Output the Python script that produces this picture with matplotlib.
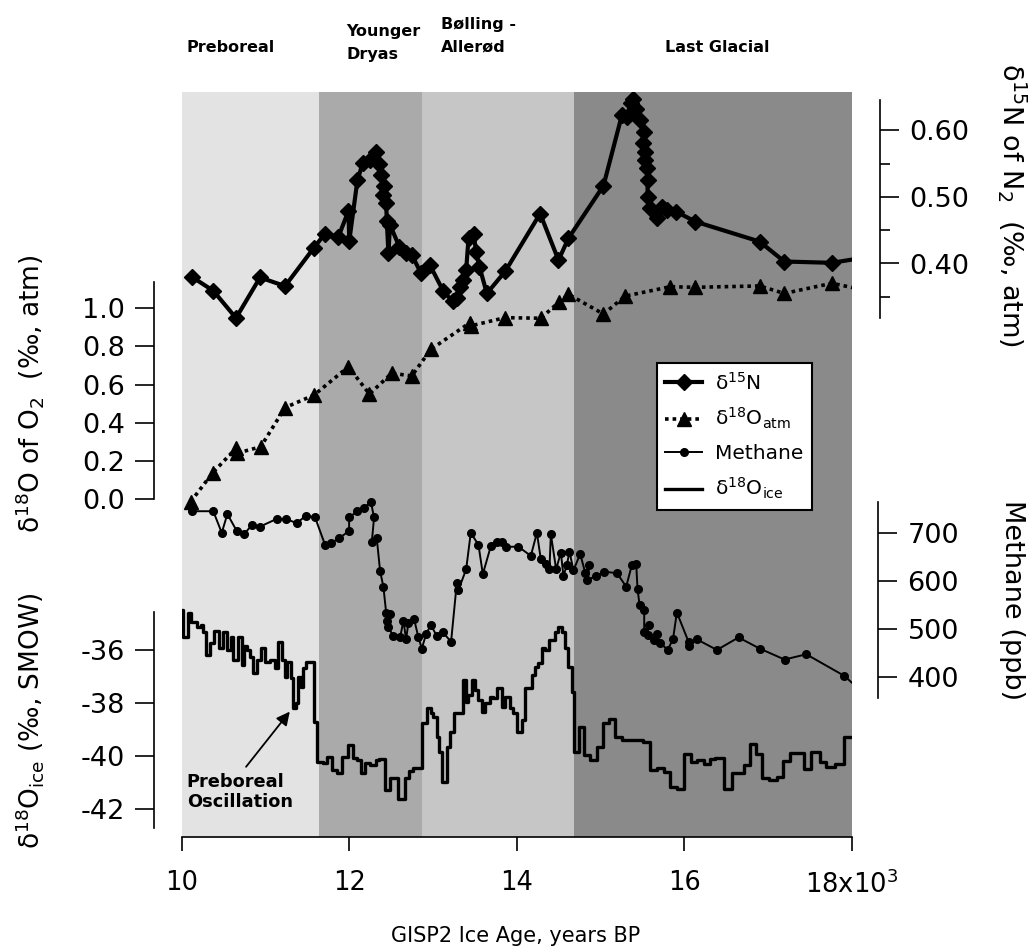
import matplotlib
matplotlib.use("Agg")
import matplotlib.pyplot as plt

plt.rcParams["font.family"] = ["DejaVu Sans"]
plt.rcParams["mathtext.default"] = "regular"

# ── Climate intervals ─────────────────────────────────────
band_edges = [10000, 11640, 12870, 14680, 18000]
band_colors = ["#e3e3e3", "#aaaaaa", "#c6c6c6", "#8a8a8a"]
band_names = ["Preboreal", "Younger\nDryas", "Bølling -\nAllerød", "Last Glacial"]

# ── d15N of N2 (permil) ───────────────────────────────────
n15_age = [10119, 10377, 10648, 10935, 11233, 11580, 11711, 11870, 11990, 12000,
           12097, 12161, 12248, 12320, 12360, 12376, 12419, 12407, 12440, 12448,
           12467, 12487, 12598, 12678, 12746, 12854, 12965, 13124, 13236, 13291,
           13324, 13356, 13395, 13423, 13483, 13514, 13554, 13642, 13860, 14278,
           14497, 14616, 15034, 15253, 15313, 15361, 15392, 15424, 15472, 15512,
           15504, 15532, 15532, 15552, 15560, 15560, 15592, 15671, 15731, 15791,
           15902, 16129, 16897, 17192, 17761, 18200]
n15 = [0.380, 0.359, 0.318, 0.379, 0.366, 0.424, 0.445, 0.440, 0.479, 0.434,
       0.525, 0.551, 0.556, 0.568, 0.550, 0.533, 0.517, 0.503, 0.491, 0.464,
       0.416, 0.458, 0.425, 0.416, 0.413, 0.386, 0.397, 0.358, 0.343, 0.348,
       0.365, 0.375, 0.390, 0.438, 0.445, 0.418, 0.395, 0.355, 0.388, 0.475,
       0.405, 0.438, 0.517, 0.623, 0.621, 0.641, 0.648, 0.633, 0.616, 0.598,
       0.581, 0.568, 0.556, 0.543, 0.526, 0.500, 0.483, 0.468, 0.485, 0.480,
       0.478, 0.463, 0.433, 0.403, 0.401, 0.410]

# ── d18O of O2 (permil, atm) ─────────────────────────────
atm_age = [10107, 10370, 10648, 10657, 10943, 11233, 11580, 11990, 12240, 12507,
           12746, 12973, 13442, 13450, 13860, 14286, 14509, 14616, 15034, 15293,
           15831, 16129, 16897, 17192, 17761, 18150]
atm = [-0.013, 0.139, 0.267, 0.241, 0.275, 0.480, 0.546, 0.694, 0.551, 0.660,
       0.646, 0.785, 0.925, 0.908, 0.951, 0.948, 1.035, 1.073, 0.970, 1.064,
       1.113, 1.110, 1.117, 1.078, 1.131, 1.095]

# ── Methane (ppb) ─────────────────────────────────────────
ch4_age = [10119, 10377, 10478, 10545, 10657, 10744, 10836, 10935, 11134, 11245,
           11373, 11484, 11592, 11711, 11779, 11882, 11998, 11998, 12097, 12180,
           12257, 12296, 12269, 12328, 12368, 12407, 12440, 12487, 12448, 12467,
           12520, 12607, 12646, 12678, 12706, 12774, 12825, 12866, 12917, 12973,
           13045, 13116, 13215, 13283, 13303, 13395, 13450, 13542, 13594, 13689,
           13761, 13821, 13872, 14019, 14167, 14239, 14286, 14350, 14389, 14406,
           14469, 14525, 14556, 14597, 14628, 14676, 14756, 14816, 14867, 14843,
           14947, 15043, 15194, 15305, 15373, 15424, 15440, 15464, 15520, 15520,
           15572, 15560, 15640, 15671, 15711, 15799, 15863, 15910, 16049, 16057,
           16149, 16388, 16646, 16897, 17195, 17454, 17908, 18150]
ch4 = [746, 746, 701, 740, 705, 698, 717, 714, 730, 730,
       721, 737, 733, 676, 679, 690, 705, 733, 746, 753,
       766, 733, 682, 690, 621, 589, 535, 532, 518, 505,
       487, 483, 518, 479, 514, 521, 483, 460, 490, 509,
       486, 494, 474, 596, 582, 625, 701, 676, 615, 673,
       682, 682, 672, 672, 653, 701, 646, 637, 625, 698,
       625, 660, 611, 634, 662, 623, 657, 618, 634, 603,
       611, 620, 617, 589, 634, 637, 585, 551, 540, 495,
       509, 488, 478, 490, 472, 457, 479, 535, 474, 465,
       479, 457, 483, 460, 437, 448, 403, 365]

# ── d18O of ice (permil, SMOW), step record ───────────────
ice_age = [10000, 10020, 10079, 10107, 10179, 10227, 10258, 10290, 10338, 10386,
           10449, 10489, 10545, 10585, 10617, 10676, 10716, 10744, 10784, 10815,
           10847, 10903, 10943, 10995, 11054, 11114, 11154, 11194, 11233, 11261,
           11301, 11333, 11365, 11393, 11420, 11452, 11484, 11580, 11612, 11683,
           11731, 11791, 11850, 11910, 11990, 12049, 12089, 12137, 12189, 12248,
           12320, 12360, 12427, 12487, 12579, 12666, 12718, 12766, 12865, 12925,
           12973, 13005, 13044, 13076, 13104, 13164, 13204, 13251, 13363, 13395,
           13422, 13462, 13502, 13542, 13582, 13621, 13681, 13721, 13761, 13820,
           13860, 13920, 13960, 14000, 14059, 14099, 14179, 14218, 14258, 14298,
           14338, 14378, 14457, 14497, 14537, 14577, 14616, 14656, 14688, 14736,
           14804, 14875, 14955, 15026, 15094, 15174, 15253, 15504, 15592, 15671,
           15751, 15823, 15910, 15998, 16077, 16149, 16228, 16308, 16368, 16475,
           16567, 16626, 16706, 16786, 16857, 16925, 17005, 17104, 17176, 17255,
           17351, 17422, 17510, 17614, 17693, 17801, 17900, 18020]
ice = [-34.49, -35.50, -34.62, -34.93, -35.12, -35.06, -35.31, -36.19, -35.75, -35.27,
       -35.94, -35.31, -36.00, -35.50, -36.38, -35.50, -36.56, -35.85, -36.00, -36.25,
       -36.88, -36.38, -35.94, -36.44, -36.38, -36.69, -35.69, -36.38, -37.00, -36.44,
       -37.07, -38.20, -38.01, -37.00, -37.38, -36.69, -36.44, -38.70, -40.21, -40.27,
       -40.02, -40.52, -40.64, -40.02, -39.58, -40.08, -40.14, -40.64, -40.27, -40.33,
       -40.14, -40.12, -41.27, -40.83, -41.62, -40.83, -40.54, -40.46, -38.76, -38.20,
       -38.36, -38.51, -39.26, -39.83, -40.96, -39.64, -39.08, -38.39, -37.13, -37.95,
       -37.69, -37.13, -37.51, -37.88, -38.32, -38.01, -37.76, -37.82, -37.44, -38.13,
       -37.76, -38.20, -38.39, -39.08, -38.64, -37.44, -36.94, -36.63, -36.50, -35.94,
       -36.00, -35.62, -35.31, -35.12, -35.31, -35.94, -36.63, -37.57, -39.83, -38.89,
       -39.95, -40.14, -39.64, -38.76, -38.61, -39.26, -39.39, -39.45, -40.52, -40.46,
       -40.58, -41.15, -41.25, -39.92, -40.21, -40.14, -40.29, -40.12, -40.08, -41.25,
       -40.64, -40.62, -40.33, -39.54, -39.92, -40.83, -40.90, -40.77, -40.17, -39.89,
       -39.87, -40.49, -39.83, -40.21, -40.39, -40.29, -39.26, -39.26]

x_ticks = [10000, 12000, 14000, 16000, 18000]
x_ticklabels = ["10", "12", "14", "16", "18x10$^3$"]

# ── Layout (pixels of the 1034x952 canvas) ────────────────
W, H = 1034, 952
L, R, T, B = 181.7, 852.0, 92.0, 837.0


def fx(px):
    return px / W


def fy(py):
    return 1 - py / H


fig = plt.figure(figsize=(W / 100, H / 100), dpi=100)
pos = [fx(L), fy(B), (R - L) / W, (B - T) / H]

ax0 = fig.add_axes(pos)
ax0.set_xlim(band_edges[0], band_edges[-1])
ax0.set_ylim(0, 1)
for lo, hi, c in zip(band_edges[:-1], band_edges[1:], band_colors):
    ax0.axvspan(lo, hi, color=c, lw=0)
for s in ("top", "left", "right"):
    ax0.spines[s].set_visible(False)
ax0.spines["bottom"].set_linewidth(1.2)
ax0.set_yticks([])
ax0.set_xticks(x_ticks)
ax0.set_xticklabels(x_ticklabels)
ax0.tick_params(axis="x", direction="out", length=10, width=1.2, pad=14, labelsize=18.5)
fig.text(fx(516), fy(936), "GISP2 Ice Age, years BP", ha="center", va="center",
         fontsize=15)


def data_axes(v1, p1, v2, p2, side, bounds, ticks, fmt, outward=20):
    """Overlay axes whose value v1 sits at pixel row p1 and v2 at p2."""
    ax = fig.add_axes(pos)
    ax.patch.set_visible(False)
    ax.set_xlim(band_edges[0], band_edges[-1])
    slope = (v2 - v1) / (p2 - p1)
    ax.set_ylim(v1 + (B - p1) * slope, v1 + (T - p1) * slope)
    for s in ax.spines.values():
        s.set_visible(False)
    ax.set_xticks([])
    sp = ax.spines[side]
    sp.set_visible(True)
    sp.set_position(("outward", outward))
    sp.set_bounds(*bounds)
    sp.set_linewidth(1.2)
    ax.yaxis.set_ticks_position(side)
    ax.set_yticks(ticks)
    ax.set_yticklabels([fmt.format(t) for t in ticks])
    ax.tick_params(axis="y", which="major", direction="out", length=14,
                   width=1.2, pad=7, labelsize=19.5)
    return ax


ax_n15 = data_axes(0.6, 130.5, 0.4, 263.5, "right", (0.318, 0.646),
                   [0.4, 0.5, 0.6], "{:.2f}")
ax_n15.set_yticks([0.35, 0.45, 0.55], minor=True)
ax_n15.tick_params(axis="y", which="minor", direction="out", length=7, width=1.2)

ax_atm = data_axes(1.0, 308.3, 0.0, 499.3, "left", (0.0, 1.14),
                   [0.0, 0.2, 0.4, 0.6, 0.8, 1.0], "{:.1f}")

ax_ch4 = data_axes(700, 533.3, 400, 677.3, "right", (356, 766),
                   [400, 500, 600, 700], "{:d}", outward=19)

ax_ice = data_axes(-36, 650.0, -42, 809.3, "left", (-42.72, -34.56),
                   [-42, -40, -38, -36], "{:d}")

h1, = ax_n15.plot(n15_age, n15, color="black", lw=3, marker="D", ms=8.5)
h2, = ax_atm.plot(atm_age, atm, color="black", lw=2.6, ls=(0, (1, 1.1)),
                  marker="^", ms=10)
h3, = ax_ch4.plot(ch4_age, ch4, color="black", lw=1.4, marker="o", ms=5.5)
h4, = ax_ice.step(ice_age, ice, where="post", color="black", lw=2.4)

leg = ax_ice.legend([h1, h2, h3, h4],
                    ["δ$^{15}$N", "δ$^{18}$O$_{atm}$", "Methane", "δ$^{18}$O$_{ice}$"],
                    loc="upper left", bbox_to_anchor=(fx(657), fy(363)),
                    bbox_transform=fig.transFigure, fontsize=14.5,
                    frameon=True, fancybox=False, framealpha=1,
                    edgecolor="black", handlelength=1.8, handletextpad=0.65,
                    labelspacing=0.64, borderpad=0.42, borderaxespad=0)
leg.get_frame().set_linewidth(1.5)

# Preboreal Oscillation note
ax_ice.annotate("", xy=(11290, -38.32), xytext=(10768, -40.40),
                arrowprops=dict(arrowstyle="-|>", color="black", lw=1.3,
                                mutation_scale=20, shrinkA=0, shrinkB=0))
ax_ice.text(10060, -40.62, "Preboreal\nOscillation", ha="left", va="top",
            fontsize=12.8, fontweight="bold", linespacing=1.15)

# interval names above the plot
name_pos = [(187, 47), (346, 43), (441, 36), (665, 47)]
for name, (px, py) in zip(band_names, name_pos):
    fig.text(fx(px), fy(py), name, ha="left", va="center", fontsize=11.5,
             fontweight="bold", linespacing=1.65)

# axis titles
fig.text(fx(30), fy(394), "δ$^{18}$O of O$_2$  (‰, atm)", rotation=90,
         ha="center", va="center", fontsize=19)
fig.text(fx(30), fy(721), "δ$^{18}$O$_{ice}$ (‰, SMOW)", rotation=90,
         ha="center", va="center", fontsize=19)
fig.text(fx(1012), fy(347), "δ$^{15}$N of N$_2$  (‰, atm)", rotation=270,
         ha="center", va="bottom", fontsize=19.5)
fig.text(fx(1012), fy(600), "Methane (ppb)", rotation=270,
         ha="center", va="center", fontsize=19.5)

fig.savefig("out.png", dpi=100)
